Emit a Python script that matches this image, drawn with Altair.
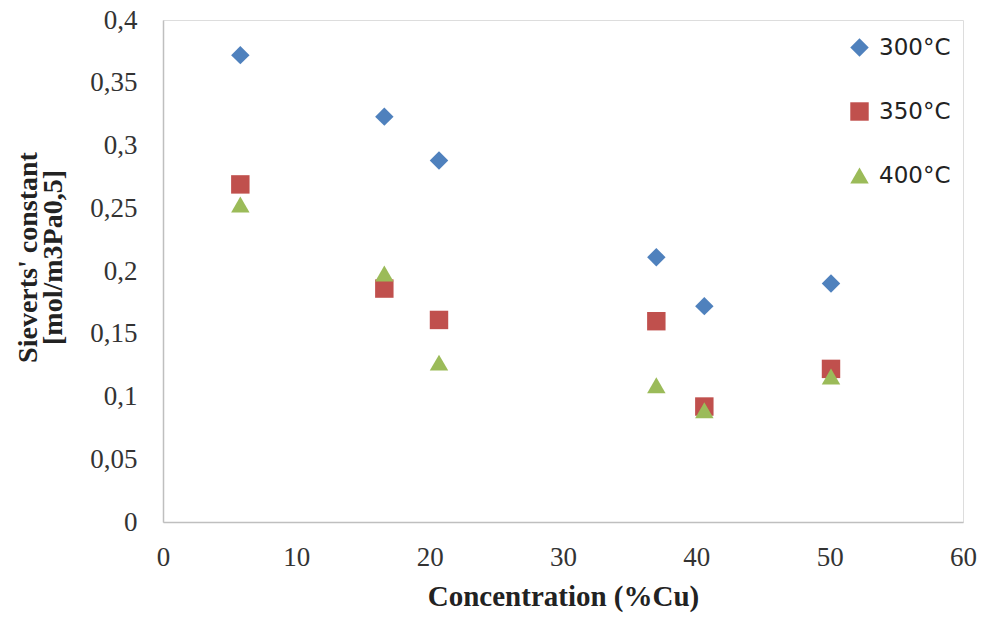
import altair as alt
import pandas as pd

conc = [5.8, 16.6, 20.7, 37.0, 40.6, 50.1]
series = ["300°C", "350°C", "400°C"]
k300 = [0.372, 0.323, 0.288, 0.211, 0.172, 0.190]
k350 = [0.269, 0.186, 0.161, 0.160, 0.092, 0.122]
k400 = [0.253, 0.198, 0.127, 0.109, 0.089, 0.116]
colors = ["#4F81BD", "#C0504D", "#9BBB59"]
shapes = ["diamond", "square", "triangle-up"]
x_ticks = [0, 10, 20, 30, 40, 50, 60]
y_ticks = [0, 0.05, 0.1, 0.15, 0.2, 0.25, 0.3, 0.35, 0.4]

rows = []
for s, vals in zip(series, [k300, k350, k400]):
    for c, v in zip(conc, vals):
        rows.append({"conc": c, "k": v, "series": s})
df = pd.DataFrame(rows)

serif = "Liberation Serif"

chart = alt.Chart(df).mark_point(filled=True, opacity=1, size=340).encode(
    x=alt.X("conc:Q",
            scale=alt.Scale(domain=[0, 60], nice=False, zero=False),
            axis=alt.Axis(values=x_ticks, title="Concentration (%Cu)", grid=False,
                          ticks=False, labelPadding=22, titlePadding=12,
                          labelFont=serif, labelFontSize=27, labelColor="#333333",
                          titleFont=serif, titleFontSize=29, titleFontWeight="bold",
                          titleColor="#222222", domainColor="#bfbfbf", domainWidth=1.5,
                          labelFlush=False)),
    y=alt.Y("k:Q",
            scale=alt.Scale(domain=[0, 0.4], nice=False),
            axis=alt.Axis(values=y_ticks, title=["Sieverts' constant", "[mol/m3Pa0,5]"],
                          grid=False, ticks=False, labelPadding=26, titlePadding=22,
                          titleY=237,
                          labelExpr="replace(toString(datum.value), '.', ',')",
                          labelFont=serif, labelFontSize=27, labelColor="#333333",
                          titleFont=serif, titleFontSize=28, titleFontWeight="bold",
                          titleColor="#222222", domainColor="#bfbfbf", domainWidth=1.5,
                          titleLineHeight=25, labelFlush=False)),
    color=alt.Color("series:N", scale=alt.Scale(domain=series, range=colors),
                    legend=alt.Legend(title=None, orient="none", legendX=685, legendY=16,
                                      labelFont="DejaVu Sans", labelFontSize=23,
                                      labelColor="#222222", rowPadding=40,
                                      symbolSize=340, labelOffset=8)),
    shape=alt.Shape("series:N", scale=alt.Scale(domain=series, range=shapes)),
).properties(
    width=800, height=502, autosize="none",
    padding={"left": 163, "top": 20, "right": 24, "bottom": 97},
).configure_view(stroke=None).configure(background="white")

chart.save("out.html", embed_options={"renderer": "svg", "actions": False})
